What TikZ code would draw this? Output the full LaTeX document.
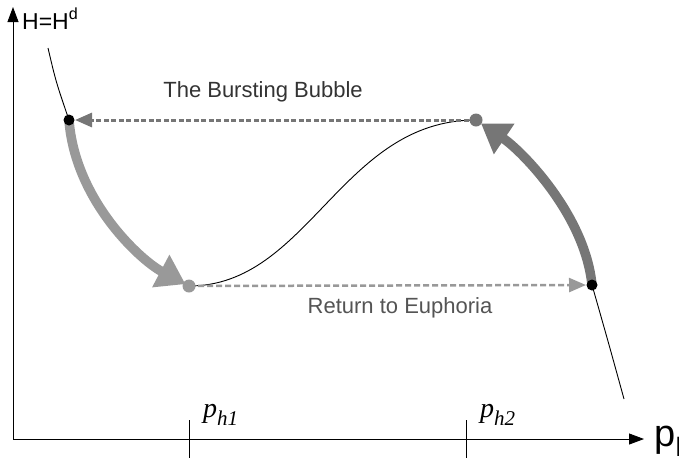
\documentclass[tikz,border=0pt]{standalone}
\usepackage{fontspec}
\setmainfont{Liberation Sans}
\newfontfamily\timesfont{Liberation Serif}
\usetikzlibrary{arrows.meta}
\definecolor{lgray}{HTML}{999999}
\definecolor{dgray}{HTML}{767676}
\begin{document}
\begin{tikzpicture}[x=1pt,y=-1pt,
	axis/.style={line width=0.9pt,-{Triangle[length=15pt,width=11pt]}},
	bigarrow/.style={line width=9.5pt,-{Triangle[length=28pt,width=35pt]},shorten >=4pt},
	jump/.style={line width=3pt,dash pattern=on 5pt off 2.5pt,-{Triangle[length=17pt,width=14pt]},shorten >=6pt},
	lbl/.style={font=\fontsize{22}{26}\selectfont}]
	\useasboundingbox (0,0) rectangle (679,464);
		\path
	(13,439) coordinate (O)
	(13,7) coordinate (Y)
	(644,439) coordinate (X)
	(48,48) coordinate (S)
	(69,120) coordinate (A)
	(189,286) coordinate (B)
	(476,120) coordinate (C)
	(592,285) coordinate (D)
	(624,399) coordinate (E)
	;
	\draw[axis] (O)--(Y);
	\draw[axis] (O)--(X);
	\node[anchor=base west,font=\fontsize{23}{26}\selectfont,inner sep=1pt] (hlab) at (21,29) {H=H\textsuperscript{d}};
	\node[anchor=base west,font=\fontsize{38}{40}\selectfont] (plab) at (651,446) {p\textsubscript{h}};
	\foreach \x/\n in {189/1,466/2}{
		\draw[line width=0.9pt] (\x,420)--(\x,458);
		\node[anchor=base west,inner sep=0] (ph\n) at (\x+14,417) {\timesfont\itshape\fontsize{28}{30}\selectfont p\raisebox{-8pt}{\fontsize{21}{22}\selectfont h\n}};
	}
	% the curve, visible parts only
	\draw[line width=0.9pt] (S) .. controls (56,82) .. (A);
	\draw[line width=0.9pt] (B) .. controls (309,286) and (341,120) .. (C);
	\draw[line width=0.9pt] (D) .. controls (608,341) .. (E);
	\draw[bigarrow,color=lgray] (A) .. controls (75,200) and (140,260) .. (B);
	\draw[bigarrow,color=dgray,shorten >=6pt] (D) .. controls (585,215) and (522,151) .. (C);
	\draw[jump,color=dgray] (C)--(A);
	\draw[jump,color=lgray,line width=2.5pt,dash pattern=on 6pt off 3pt] (B)--(D);
	\foreach \p/\c/\r in {A/black/11,D/black/11,B/lgray/13,C/dgray/13}
		\node[circle,fill=\c,inner sep=0,minimum size=\r pt] (dot\p) at (\p) {};
	\node[lbl,anchor=base,text=black!80] (bubble) at (263,97) {The Bursting Bubble};
	\node[lbl,anchor=base,text=black!67] (euphoria) at (400,313) {Return to Euphoria};
\end{tikzpicture}
\end{document}
